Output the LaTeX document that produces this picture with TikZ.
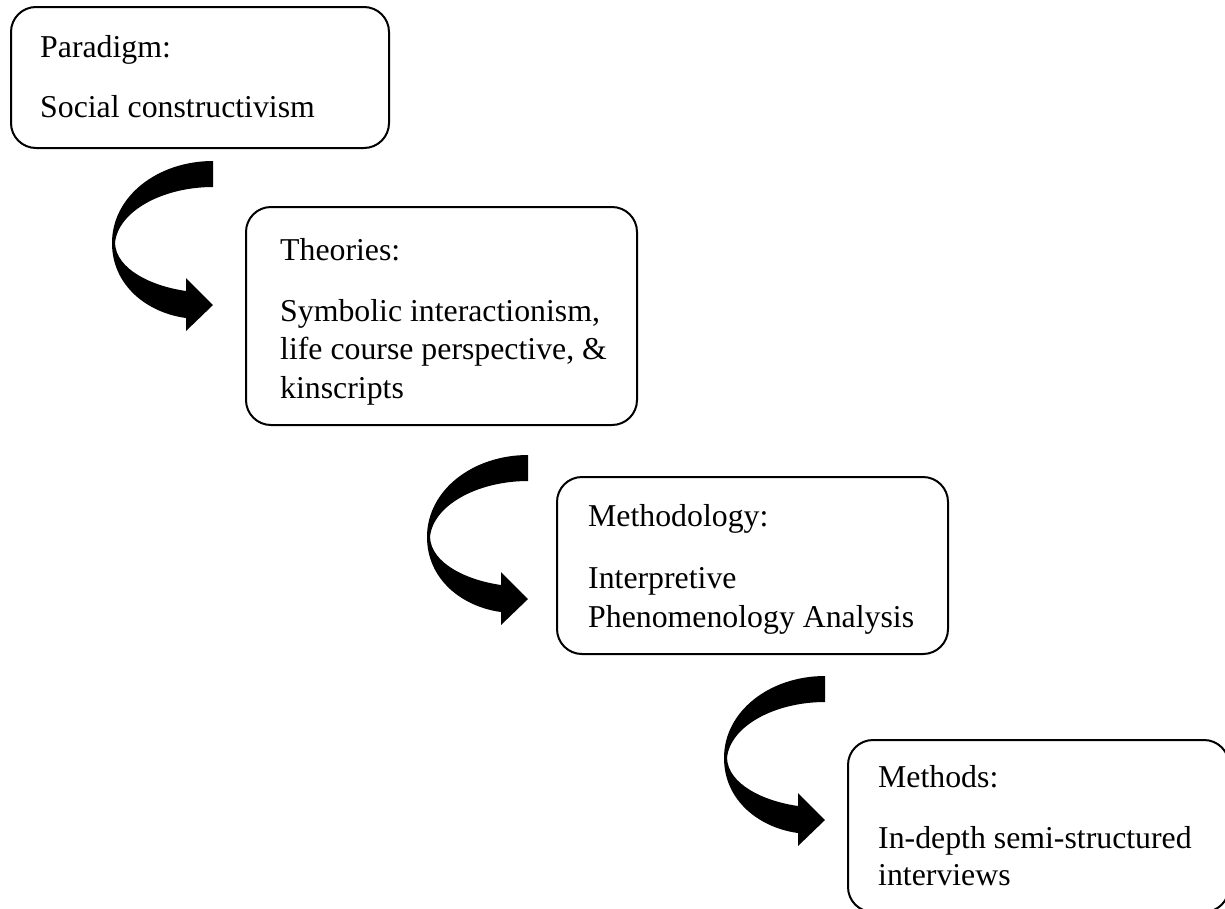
\documentclass[tikz,border=0pt]{standalone}
\usepackage{fontspec}
\setmainfont{Liberation Serif}
\begin{document}
\begin{tikzpicture}[x=1pt,y=-1pt,
  box/.style={draw, line width=2pt, rounded corners=25pt, inner sep=0pt},
  txt/.style={anchor=base west, inner sep=0pt, font=\fontsize{31.8}{38}\selectfont},
  bendarrow/.style={fill=black}]
\useasboundingbox (0,0) rectangle (1225,908);
\clip (0,0) rectangle (1225,908);

% boxes
\node[box, minimum width=378pt, minimum height=141pt] (b1) at (200,77.5) {};
\node[box, minimum width=391pt, minimum height=218pt] (b2) at (441.5,316) {};
\node[box, minimum width=391pt, minimum height=177pt] (b3) at (752.5,565.5) {};
\node[box, minimum width=381pt, minimum height=172pt] (b4) at (1038.5,826) {};

% texts
\node[txt] (t1a) at (40,57) {Paradigm:};
\node[txt] (t1b) at (40,117) {Social constructivism};
\node[txt] (t2a) at (280,260) {Theories:};
\node[txt] (t2b) at (280,321) {Symbolic interactionism,};
\node[txt] (t2c) at (280,359.5) {life course perspective, \&};
\node[txt] (t2d) at (280,398) {kinscripts};
\node[txt] (t3a) at (588,526) {Methodology:};
\node[txt] (t3b) at (588,588) {Interpretive};
\node[txt] (t3c) at (588,627) {Phenomenology Analysis};
\node[txt] (t4a) at (878,787) {Methods:};
\node[txt] (t4b) at (878,848) {In-depth semi-structured};
\node[txt] (t4c) at (878,885) {interviews};

% curved arrows
\foreach \sx/\sy in {213/161, 528/455, 825/676}{
  \begin{scope}[shift={(\sx,\sy)}]
    \fill[bendarrow] (0,0) .. controls (-55,0) and (-101,35) .. (-101,82)
      .. controls (-101,125) and (-65,152) .. (-27,157)
      -- (-27,170) -- (0,144) -- (-27,117) -- (-27,130)
      .. controls (-62,125) and (-97,108) .. (-98,82)
      .. controls (-95,50) and (-50,26) .. (0,26) -- cycle;
  \end{scope}
}
\end{tikzpicture}
\end{document}
